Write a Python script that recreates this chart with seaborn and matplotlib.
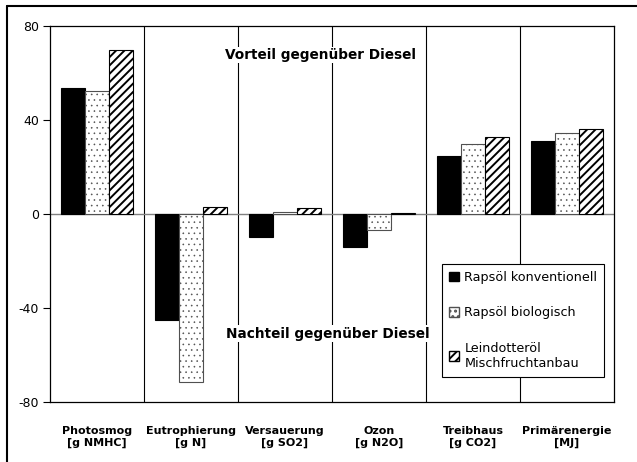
import pandas as pd
import seaborn as sns
import matplotlib.pyplot as plt
from matplotlib.patches import Patch
from matplotlib.lines import Line2D

categories=["Photosmog\n[g NMHC]","Eutrophierung\n[g N]","Versauerung\n[g SO2]",
            "Ozon\n[g N2O]","Treibhaus\n[g CO2]","Primärenergie\n[MJ]"]
series=["Rapsöl konventionell","Rapsöl biologisch","Leindotteröl\nMischfruchtanbau"]
raps_konv=[53.7,-45.1,-9.6,-13.9,24.5,31.2]
raps_bio=[52.5,-71.3,0.8,-6.8,29.8,34.3]
leindotter=[69.7,2.8,2.4,0.3,32.8,36.0]

rows=[]
for s,vals in zip(series,[raps_konv,raps_bio,leindotter]):
    for c,v in zip(categories,vals):
        rows.append({"cat":c,"series":s,"val":v})
df=pd.DataFrame(rows)

sns.set_style("white")
plt.rcParams['font.family']=['DejaVu Sans']
plt.rcParams['text.color']="black"
plt.rcParams['xtick.color']="black"
plt.rcParams['ytick.color']="black"
plt.rcParams['hatch.linewidth']=1.4

fig=plt.figure(figsize=(6.37,4.62),dpi=100)
ax=fig.add_axes([50/637,1-402/462,564/637,376/462])

sns.barplot(data=df,x="cat",y="val",hue="series",ax=ax,palette=["black","white","white"],
            width=0.77,saturation=1,edgecolor="black",linewidth=0.8,legend=False,zorder=3)

fills=["black","white","white"]
hatches=[None,"...","////"]
for cont,fc,h in zip(ax.containers,fills,hatches):
    for p in cont:
        p.set_facecolor(fc)
        p.set_hatch(h)
        if h=="...":
            p.set_edgecolor("#505050")
            p.set_hatch_linewidth(0.4)
        else:
            p.set_edgecolor("black")

ax.set_ylim(-80,80)
ax.set_xlim(-0.5,5.5)
ax.set_yticks([-80,-40,0,40,80])
ax.set_yticklabels(["-80","-40","0","40","80"],fontsize=9)
ax.tick_params(axis="y",left=True,length=5,width=0.8,pad=3,direction="out")
ax.tick_params(axis="x",bottom=False,pad=14)
for lab in ax.get_xticklabels():
    lab.set_fontweight("bold")
    lab.set_fontsize(8)
ax.set_xlabel("")
ax.set_ylabel("")
for sp in ax.spines.values():
    sp.set_color("black")
    sp.set_linewidth(0.9)

ax.axhline(0,color="#808080",lw=1,zorder=2)
for k in range(1,6):
    ax.axvline(k-0.5,color="black",lw=0.8,zorder=1)

ax.text(2.38,67.7,"Vorteil gegenüber Diesel",ha="center",va="center",fontsize=9.8,fontweight="bold",
        bbox=dict(facecolor="white",edgecolor="none",pad=1),zorder=4)
ax.text(2.46,-51,"Nachteil gegenüber Diesel",ha="center",va="center",fontsize=9.8,fontweight="bold",
        bbox=dict(facecolor="white",edgecolor="none",pad=1),zorder=4)

handles=[Patch(facecolor="black",edgecolor="black"),
         Patch(facecolor="white",edgecolor="#505050",hatch="..."),
         Patch(facecolor="white",edgecolor="black",hatch="////")]
leg=ax.legend(handles,series,loc="upper left",bbox_to_anchor=(0.695,0.367),fontsize=9.2,
              frameon=True,fancybox=False,framealpha=1,edgecolor="black",handlelength=0.8,
              handleheight=0.8,handletextpad=0.4,labelspacing=1.75,borderpad=0.55,borderaxespad=0)
leg.get_frame().set_linewidth(0.8)
leg.set_zorder(5)

fig.add_artist(Line2D([7/637,7/637],[0,1-6/462],color="black",lw=1.5))
fig.add_artist(Line2D([7/637,1],[1-6/462,1-6/462],color="black",lw=1.5))

fig.savefig("out.png",dpi=100)
